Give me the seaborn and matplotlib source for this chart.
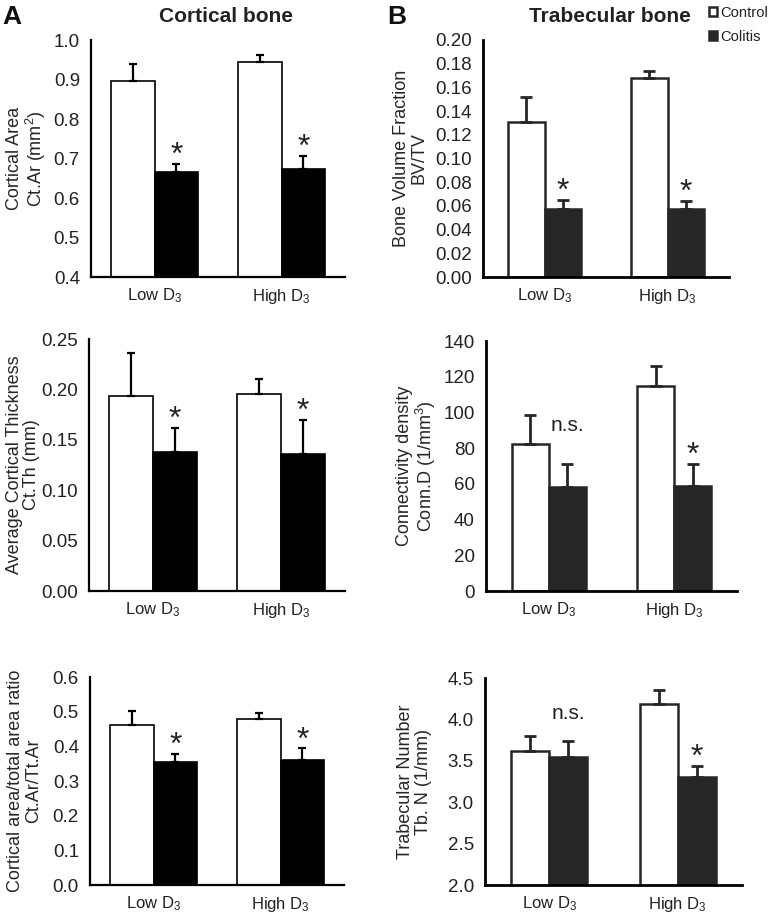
import pandas as pd
import numpy as np
import matplotlib
matplotlib.use('Agg')
import matplotlib.pyplot as plt
import seaborn as sns
from matplotlib.ticker import FormatStrFormatter

# data (mean and upper error)
doses = ['Low D$_3$', 'High D$_3$']
groups = ['Control', 'Colitis']

ct_ar_control = [0.895, 0.945]
ct_ar_colitis = [0.666, 0.674]
ct_ar_control_err = [0.043, 0.017]
ct_ar_colitis_err = [0.021, 0.032]

bv_tv_control = [0.131, 0.168]
bv_tv_colitis = [0.057, 0.057]
bv_tv_control_err = [0.021, 0.006]
bv_tv_colitis_err = [0.008, 0.007]

ct_th_control = [0.193, 0.195]
ct_th_colitis = [0.138, 0.136]
ct_th_control_err = [0.043, 0.015]
ct_th_colitis_err = [0.024, 0.034]

conn_d_control = [82.5, 115.0]
conn_d_colitis = [58.0, 59.0]
conn_d_control_err = [16.0, 11.0]
conn_d_colitis_err = [13.0, 12.0]

ratio_control = [0.461, 0.480]
ratio_colitis = [0.354, 0.362]
ratio_control_err = [0.042, 0.016]
ratio_colitis_err = [0.023, 0.032]

tb_n_control = [3.62, 4.19]
tb_n_colitis = [3.55, 3.31]
tb_n_control_err = [0.18, 0.16]
tb_n_colitis_err = [0.19, 0.13]

sns.set_style('white')
plt.rcParams['font.family'] = ['Liberation Sans', 'DejaVu Sans']
plt.rcParams['mathtext.fontset'] = 'custom'
plt.rcParams['mathtext.rm'] = 'Liberation Sans'
plt.rcParams['mathtext.it'] = 'Liberation Sans:italic'
plt.rcParams['text.color'] = '#222222'

W, H = 771, 913
fig = plt.figure(figsize=(W / 100, H / 100), dpi=100)


def box(left, right, top, bottom):
    return [left / W, 1 - bottom / H, (right - left) / W, (bottom - top) / H]


def panel(rect, ctrl, col, ctrl_err, col_err, ylim, step, fmt, ylabel, label_x,
          style, marks):
    ax = fig.add_axes(rect)
    df = pd.DataFrame({
        'dose': doses * 2,
        'group': [groups[0]] * 2 + [groups[1]] * 2,
        'value': list(ctrl) + list(col),
    })
    sns.barplot(data=df, x='dose', y='value', hue='group', order=doses,
                hue_order=groups, palette=['white', style['dark']],
                width=style['width'], edgecolor=style['edge'],
                linewidth=style['lw'], errorbar=None, legend=False, ax=ax)
    errs = [ctrl_err, col_err]
    tops = []
    for cont, err in zip(ax.containers, errs):
        xs = [p.get_x() + p.get_width() / 2 for p in cont]
        hs = [p.get_height() for p in cont]
        ax.errorbar(xs, hs, yerr=[np.zeros(len(err)), err], fmt='none',
                    ecolor=style['edge'], elinewidth=style['elw'],
                    capsize=style['cap'], capthick=style['elw'], zorder=1)
        tops.append([(x, h + e) for x, h, e in zip(xs, hs, err)])
    for i, (kind, y) in enumerate(marks):
        x, top = tops[1][i]
        if kind == '*':
            ax.annotate('*', xy=(x, top), xytext=(0, 0), textcoords='offset points',
                        ha='center', va='baseline', fontsize=23, color='#222222')
        elif kind == 'n.s.':
            ax.text(x, y, 'n.s.', ha='center', va='center', fontsize=15,
                    color='#222222')
    ax.set_xlim(-0.5, 1.5)
    ax.set_ylim(*ylim)
    ax.set_yticks(np.arange(ylim[0], ylim[1] + step / 2, step))
    ax.yaxis.set_major_formatter(FormatStrFormatter(fmt))
    ax.set_xticks([0, 1])
    ax.set_xticklabels(doses)
    ax.set_xticks([-0.5, 0.5, 1.5], minor=True)
    ax.tick_params(axis='x', which='major', length=0, labelsize=12, pad=7,
                   labelcolor='#222222')
    ax.tick_params(axis='x', which='minor', length=5, width=style['spw'],
                   direction='out', color='black')
    ax.tick_params(axis='y', length=5, width=style['spw'], direction='out',
                   labelsize=13.5, pad=3, color='black', labelcolor='#222222')
    ax.set_xlabel('')
    ax.set_ylabel(ylabel, fontsize=13, linespacing=1.05)
    ax.yaxis.label.set_va('center')
    ax.yaxis.set_label_coords(label_x, 0.5)
    sns.despine(ax=ax)
    for s in ['left', 'bottom']:
        ax.spines[s].set_linewidth(style['spw'])
        ax.spines[s].set_color('black')
    ax.patch.set_alpha(0)
    return ax


style_a = dict(dark='black', edge='black', width=0.69, lw=1.2, elw=1.6, spw=1.6,
               cap=3.2)
style_b = dict(dark='#262626', edge='#262626', width=0.59, lw=1.8, elw=2.0,
               spw=2.0, cap=4.6)

panel(box(91, 345, 40, 277), ct_ar_control, ct_ar_colitis, ct_ar_control_err,
      ct_ar_colitis_err, (0.4, 1.0), 0.1, '%.1f',
      'Cortical Area\nCt.Ar (mm$^2$)', -0.252, style_a, [('*', 0), ('*', 0)])
ax_b1 = panel(box(483, 729, 40, 277), bv_tv_control, bv_tv_colitis,
              bv_tv_control_err, bv_tv_colitis_err, (0.0, 0.2), 0.02, '%.2f',
              'Bone Volume Fraction\nBV/TV', -0.295, style_b, [('*', 0), ('*', 0)])
panel(box(89, 345, 339, 591), ct_th_control, ct_th_colitis, ct_th_control_err,
      ct_th_colitis_err, (0.0, 0.25), 0.05, '%.2f',
      'Average Cortical Thickness\nCt.Th (mm)', -0.258, style_a, [('*', 0), ('*', 0)])
panel(box(486, 737, 341, 591), conn_d_control, conn_d_colitis, conn_d_control_err,
      conn_d_colitis_err, (0, 140), 20, '%d',
      'Connectivity density\nConn.D (1/mm$^3$)', -0.274, style_b,
      [('n.s.', 92.5), ('*', 0)])
panel(box(90, 344, 677, 885), ratio_control, ratio_colitis, ratio_control_err,
      ratio_colitis_err, (0.0, 0.6), 0.1, '%.1f',
      'Cortical area/total area ratio\nCt.Ar/Tt.Ar', -0.258, style_a,
      [('*', 0), ('*', 0)])
panel(box(485, 742, 678, 885), tb_n_control, tb_n_colitis, tb_n_control_err,
      tb_n_colitis_err, (2.0, 4.5), 0.5, '%.1f',
      'Trabecular Number\nTb. N (1/mm)', -0.274, style_b, [('n.s.', 4.07), ('*', 0)])

fig.text(2 / W, 1 - 17 / H, 'A', fontsize=19, fontweight='bold', va='center',
         color='#111111')
fig.text(387 / W, 1 - 17 / H, 'B', fontsize=19, fontweight='bold', va='center',
         color='#111111')
fig.text(226 / W, 1 - 16 / H, 'Cortical bone', fontsize=15, fontweight='bold',
         ha='center', va='center', color='#222222')
fig.text(610 / W, 1 - 16 / H, 'Trabecular bone', fontsize=15, fontweight='bold',
         ha='center', va='center', color='#222222')

handles = [ax_b1.containers[0][0], ax_b1.containers[1][0]]
fig.legend(handles, groups, loc='upper left', bbox_to_anchor=(709 / W, 1 - 6 / H),
           frameon=False, fontsize=10.6, handlelength=0.55, handleheight=0.55,
           handletextpad=0.2, labelspacing=0.65, borderaxespad=0, borderpad=0)

fig.savefig('out.png', dpi=100)
